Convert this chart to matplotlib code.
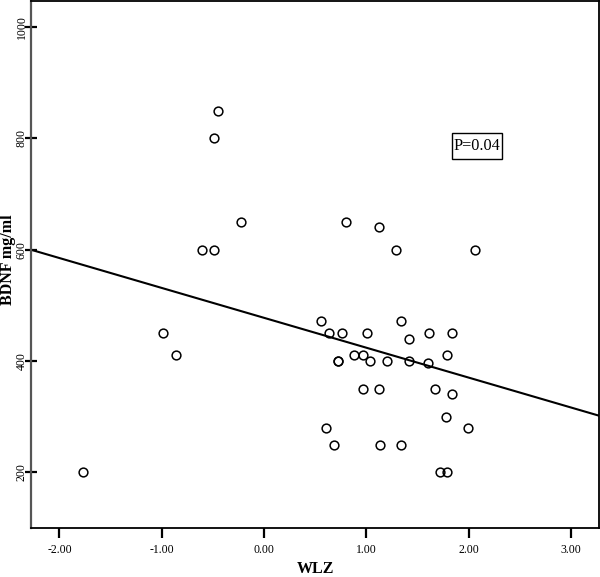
import matplotlib
matplotlib.use("Agg")
import matplotlib.pyplot as plt
from matplotlib.patches import Rectangle
import numpy as np

wlz = [-1.772, -0.987, -0.86, -0.606, -0.492, -0.492, -0.45, -0.225,
       0.554, 0.606, 0.635, 0.684, 0.720, 0.726, 0.759, 0.80, 0.883,
       0.965, 0.968, 1.01, 1.036, 1.121, 1.121, 1.131, 1.199, 1.29,
       1.339, 1.339, 1.42, 1.42, 1.60, 1.613, 1.672, 1.724, 1.776,
       1.789, 1.789, 1.835, 1.835, 1.997, 2.06]
bdnf = [200, 450, 410, 600, 600, 800, 850, 650,
        472, 280, 450, 250, 400, 400, 450, 650, 410,
        350, 410, 450, 400, 640, 350, 250, 400, 600,
        472, 250, 440, 400, 397, 450, 350, 200, 300,
        410, 200, 450, 340, 280, 600]

fit_intercept = 477.7
fit_slope = -53.7

x_ticks = [-2.0, -1.0, 0.0, 1.0, 2.0, 3.0]
x_tick_labels = ["-2.00", "-1.00", "0.00", "1.00", "2.00", "3.00"]
y_ticks = [200, 400, 600, 800, 1000]
y_tick_labels = ["200", "400", "600", "800", "1000"]
p_text = "P=0.04"

serif = ["Liberation Serif", "DejaVu Serif"]

fig = plt.figure(figsize=(6.0, 5.77), dpi=100)
ax = fig.add_axes([31/600, 49/577, 568/600, 527/577])
xlim = (-2.278, 3.275)
ylim = (100, 1047)
ax.set_xlim(*xlim)
ax.set_ylim(*ylim)

xs = np.array(xlim)
ax.plot(xs, fit_intercept + fit_slope * xs, color="black", lw=1.5, zorder=2)
ax.plot(wlz, bdnf, linestyle="none", marker="o", markersize=6.3,
        markerfacecolor="none", markeredgecolor="black", markeredgewidth=1.1,
        zorder=3)

ax.set_xticks(x_ticks)
ax.set_xticklabels(x_tick_labels, fontfamily=serif, fontsize=8.5)
ax.set_yticks(y_ticks)
ax.set_yticklabels(y_tick_labels, fontfamily=serif, fontsize=8.5,
                   rotation=90, va="center")
ax.tick_params(axis="x", direction="out", length=7, width=1.6, pad=4.5)
ax.tick_params(axis="y", direction="inout", length=8, width=1.6, pad=-1.6)

for side in ["top", "right", "bottom"]:
    ax.spines[side].set_color("black")
    ax.spines[side].set_linewidth(1.3)
ax.spines["left"].set_color("#555555")
ax.spines["left"].set_linewidth(1.6)

ax.set_xlabel("WLZ", fontfamily=serif, fontsize=11.5, fontweight="bold")
ax.xaxis.set_label_coords(0.5, -0.078)
ax.xaxis.label.set_va("center")
ax.set_ylabel("BDNF mg/ml", fontfamily=serif, fontsize=11.5,
              fontweight="bold")
ax.yaxis.set_label_coords(-0.041, 0.51)
ax.yaxis.label.set_va("center")

ax.add_patch(Rectangle((0.741, 0.700), 0.088, 0.0493, transform=ax.transAxes,
                       facecolor="white", edgecolor="black", linewidth=1,
                       zorder=4))
ax.text(0.785, 0.725, p_text, transform=ax.transAxes, fontfamily=serif,
        fontsize=11.7, ha="center", va="center", zorder=5)

fig.savefig("out.png", dpi=100)
